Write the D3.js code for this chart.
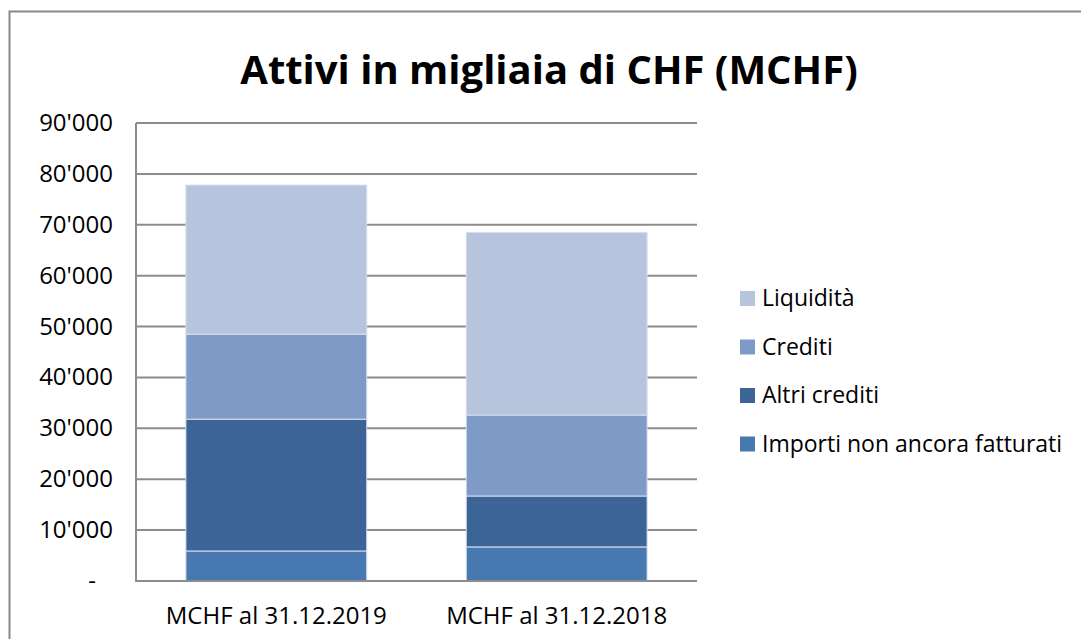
<!DOCTYPE html>
<html>
<head>
<meta charset="utf-8">
<script src="https://cdn.jsdelivr.net/npm/d3@7"></script>
<style>
  body { margin: 0; background: #fff; }
  svg text { font-family: "Open Sans", "Noto Sans", sans-serif; fill: #000; }
</style>
</head>
<body>
<svg id="chart" width="1081" height="639"></svg>
<script>
// data (MCHF)
var categories = ["MCHF al 31.12.2019", "MCHF al 31.12.2018"];
var seriesNames = ["Importi non ancora fatturati", "Altri crediti", "Crediti", "Liquidità"];
var importi = [5900, 6700];
var altriCrediti = [25900, 10000];
var crediti = [16700, 15900];
var liquidita = [29300, 35900];
var yTicks = [0, 10000, 20000, 30000, 40000, 50000, 60000, 70000, 80000, 90000];
var colors = ["#4878b0", "#3c6496", "#7e9bc8", "#b7c4de"];

var rows = categories.map(function (c, i) {
    return {
        cat: c,
        "Importi non ancora fatturati": importi[i],
        "Altri crediti": altriCrediti[i],
        "Crediti": crediti[i],
        "Liquidità": liquidita[i]
    };
});

var svg = d3.select("#chart");

// outer chart border (cut at the right and bottom edges)
svg.append("rect")
    .attr("x", 9.5).attr("y", 11.5)
    .attr("width", 1100).attr("height", 700)
    .attr("fill", "none")
    .attr("stroke", "#888")
    .attr("stroke-width", 2);

var plotLeft = 136, plotRight = 697, plotTop = 123, plotBottom = 581;

var x = d3.scaleBand()
    .domain(categories)
    .range([plotLeft, plotRight])
    .paddingInner(0.355)
    .paddingOuter(0.178);

var y = d3.scaleLinear()
    .domain([0, 90000])
    .range([plotBottom, plotTop]);

// gridlines
svg.append("g").selectAll("line")
    .data(yTicks.slice(1))
    .enter()
    .append("line")
    .attr("x1", plotLeft).attr("x2", plotRight)
    .attr("y1", function (d) { return y(d); })
    .attr("y2", function (d) { return y(d); })
    .attr("stroke", "#8c8c8c")
    .attr("stroke-width", 2);

// stacked bars
var stack = d3.stack().keys(seriesNames);
var layers = stack(rows);

svg.append("g").selectAll("g")
    .data(layers)
    .enter()
    .append("g")
    .attr("fill", function (d, i) { return colors[i]; })
    .selectAll("rect")
    .data(function (d) { return d; })
    .enter()
    .append("rect")
    .attr("x", function (d) { return x(d.data.cat); })
    .attr("width", x.bandwidth())
    .attr("y", function (d) { return y(d[1]); })
    .attr("height", function (d) { return y(d[0]) - y(d[1]); })
    .attr("stroke", "#d6def0")
    .attr("stroke-width", 1);

// axis lines
svg.append("line")
    .attr("x1", plotLeft).attr("x2", plotLeft)
    .attr("y1", plotTop).attr("y2", plotBottom + 1)
    .attr("stroke", "#8c8c8c").attr("stroke-width", 2);
svg.append("line")
    .attr("x1", plotLeft).attr("x2", plotRight)
    .attr("y1", plotBottom).attr("y2", plotBottom)
    .attr("stroke", "#8c8c8c").attr("stroke-width", 2);

// y tick labels
var fmt = function (d) {
    if (d === 0) return "-";
    return d3.format(",")(d).replace(/,/g, "'");
};
svg.append("g").selectAll("text")
    .data(yTicks)
    .enter()
    .append("text")
    .attr("x", function (d) { return d === 0 ? 96 : 113; })
    .attr("y", function (d) { return y(d) + 8; })
    .attr("text-anchor", "end")
    .attr("font-size", 24)
    .text(fmt);

// x labels
svg.append("g").selectAll("text")
    .data(categories)
    .enter()
    .append("text")
    .attr("x", function (d) { return x(d) + x.bandwidth() / 2; })
    .attr("y", 624)
    .attr("text-anchor", "middle")
    .attr("font-size", 24)
    .text(function (d) { return d; });

// title
svg.append("text")
    .attr("x", 549)
    .attr("y", 84)
    .attr("text-anchor", "middle")
    .attr("font-size", 40)
    .attr("font-weight", "bold")
    .text("Attivi in migliaia di CHF (MCHF)");

// legend (top to bottom: reverse of stacking order)
var legendItems = seriesNames.map(function (n, i) { return { name: n, color: colors[i] }; }).reverse();
var legend = svg.append("g").selectAll("g")
    .data(legendItems)
    .enter()
    .append("g")
    .attr("transform", function (d, i) { return "translate(740," + (298 + i * 48.5) + ")"; });
legend.append("rect")
    .attr("x", 0).attr("y", -7)
    .attr("width", 15).attr("height", 15)
    .attr("fill", function (d) { return d.color; });
legend.append("text")
    .attr("x", 22).attr("y", 8)
    .attr("font-size", 23)
    .text(function (d) { return d.name; });
</script>
</body>
</html>
